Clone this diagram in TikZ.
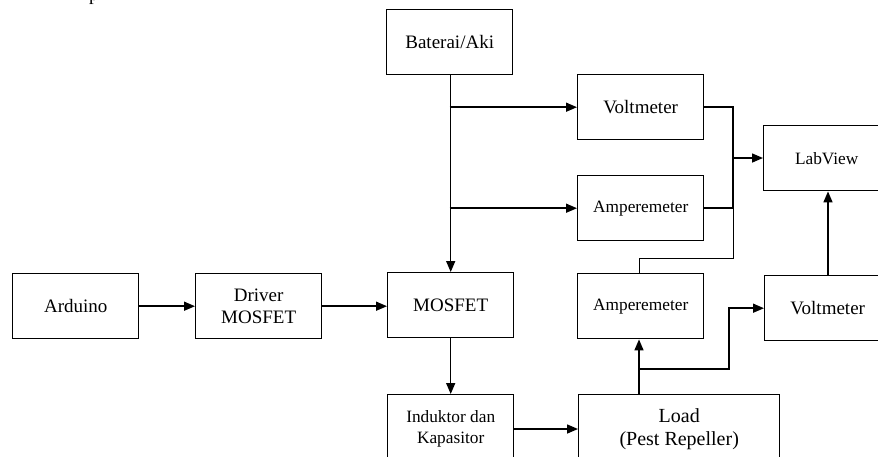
\documentclass[tikz,border=0pt]{standalone}
\usepackage{fontspec}
\setmainfont{Liberation Serif}
\usetikzlibrary{arrows.meta}
\begin{document}
\begin{tikzpicture}[x=1pt,y=-1pt,
  blk/.style={draw, line width=1.4pt, minimum width=126pt, minimum height=65pt,
    inner sep=0pt, align=center, anchor=north west,
    font=\fontsize{19}{21.7}\selectfont},
  smalltxt/.style={font=\fontsize{17.3}{21.3}\selectfont},
  arr/.style={-{Triangle[length=11pt,width=9pt]}, line width=1.5pt},
  ln/.style={line width=1.5pt},
  thin/.style={line width=0.7pt}]
\useasboundingbox (0,0) rectangle (878,456);
\node[anchor=base west, inner sep=0pt, font=\fontsize{19}{22}\selectfont] (ptxt) at (89,0) {p};
\node[blk] (bat) at (386,9) {Baterai/Aki};
\node[blk] (volt1) at (577,74) {Voltmeter};
\node[blk, smalltxt] (amp1) at (577,175) {Amperemeter};
\node[blk, smalltxt] (lab) at (763,125) {LabView};
\node[blk] (ard) at (12,273) {Arduino};
\node[blk] (drv) at (195,273) {Driver\\MOSFET};
\node[blk] (mos) at (387,272) {MOSFET};
\node[blk, smalltxt] (amp2) at (577,273) {Amperemeter};
\node[blk] (volt2) at (764,275) {Voltmeter};
\node[blk, smalltxt, minimum height=68pt] (ind) at (387,394) {Induktor dan\\Kapasitor};
\node[blk, minimum width=201pt, minimum height=68pt, font=\fontsize{20}{23}\selectfont] (load) at (578,394) {Load\\(Pest Repeller)};
\coordinate (jA) at (volt1.east -| 733,0);
\coordinate (jB) at (amp1.east -| 733,0);
\coordinate (jM) at (733,158);
\coordinate (tA) at (733,258);
\coordinate (br) at (639,369);
\coordinate (bv) at (729,369);
% battery line
\draw[arr] (bat.south -| mos.north) -- (mos.north);
\draw[arr] (bat.south |- volt1.west) -- (volt1.west);
\draw[arr] (bat.south |- amp1.west) -- (amp1.west);
% meters to labview
\draw[ln] (volt1.east) -- (jA) -- (jB) -- (amp1.east);
\draw[arr] (jM) -- (jM -| lab.west);
\draw[thin] (jB) -- (tA) -| (br |- amp2.north);
% left chain
\draw[arr] (ard.east) -- (drv.west);
\draw[arr] (drv.east) -- (drv.east -| mos.west);
\draw[arr] (mos.south) -- (ind.north);
\draw[arr] (ind.east |- 0,429) -- (load.west |- 0,429);
% load to meters
\draw[arr] (br |- load.north) -- (br |- amp2.south);
\draw[arr] (br) -- (bv) |- (volt2.west);
\draw[arr] (volt2.north -| 828,0) -- (lab.south -| 828,0);
\end{tikzpicture}
\end{document}
